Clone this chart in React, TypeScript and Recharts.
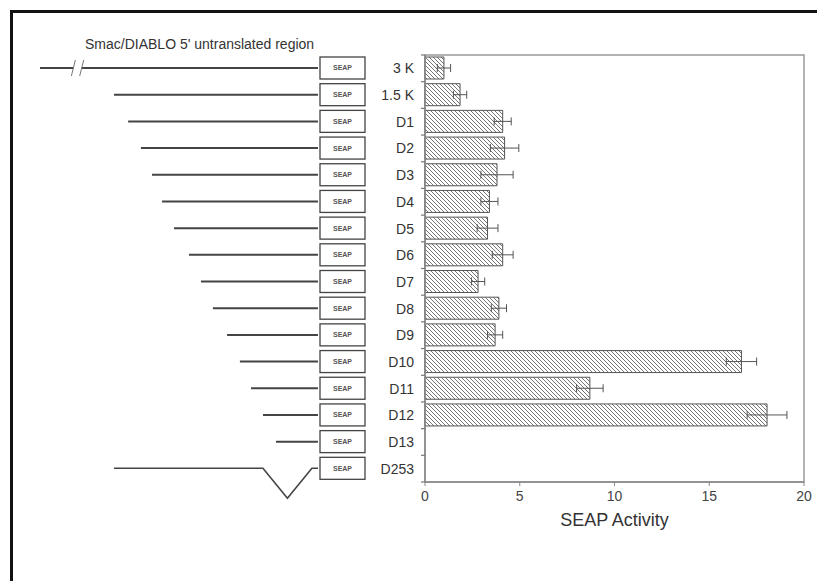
import React from "react";
import {
  BarChart,
  Bar,
  XAxis,
  YAxis,
  ErrorBar,
  ReferenceArea,
} from "recharts";

const categories = [
  "3 K", "1.5 K", "D1", "D2", "D3", "D4", "D5", "D6",
  "D7", "D8", "D9", "D10", "D11", "D12", "D13", "D253",
];

// SEAP activity (mean) and error per construct
const activity = [1.0, 1.85, 4.1, 4.2, 3.8, 3.4, 3.3, 4.1, 2.8, 3.9, 3.7, 16.7, 8.7, 18.05, 0, 0];
const activityErr = [0.35, 0.35, 0.45, 0.75, 0.85, 0.45, 0.55, 0.55, 0.35, 0.4, 0.4, 0.8, 0.7, 1.05, 0, 0];

// 5' start of each construct on a relative 0-100 scale (100 = SEAP junction)
const constructStart = [0, 26.6, 31.7, 36.3, 40.3, 43.9, 48.2, 53.6, 57.9, 62.2, 67.3, 71.9, 75.9, 80.2, 84.9, 26.6];
const breakRow = "3 K";
const breakSpan = [12, 15];
const deletionRow = "D253";
const deletionSpan = [80.2, 97.8];

const xTicks = [0, 5, 10, 15, 20];

const W = 817;
const H = 581;
const TOP = 55;
const BOTTOM = 99;
const ROW = (H - TOP - BOTTOM) / categories.length;
const INK = "#444";

const barData = categories.map((name, i) => ({
  name,
  value: activity[i],
  err: activityErr[i],
}));

const constructData = categories.map((name, i) => ({
  name,
  span: [constructStart[i], 100],
  start: constructStart[i],
}));

function ConstructShape(props: any) {
  const { x, y, width, height, payload } = props;
  const cy = y + height / 2;
  const x1 = x + width;
  const unit = width / (100 - payload.start);
  const px = (v: number) => x + (v - payload.start) * unit;
  let line: React.ReactNode;
  if (payload.name === breakRow) {
    const a = px(breakSpan[0]);
    const b = px(breakSpan[1]);
    line = (
      <g>
        <line x1={x} y1={cy} x2={a} y2={cy} stroke={INK} strokeWidth={2} />
        <line x1={b} y1={cy} x2={x1} y2={cy} stroke={INK} strokeWidth={2} />
        <line x1={a - 2} y1={cy + 8} x2={a + 2} y2={cy - 8} stroke="#777" strokeWidth={1} />
        <line x1={b - 2} y1={cy + 8} x2={b + 2} y2={cy - 8} stroke="#777" strokeWidth={1} />
      </g>
    );
  } else if (payload.name === deletionRow) {
    const a = px(deletionSpan[0]);
    const b = px(deletionSpan[1]);
    line = (
      <path
        d={`M${x},${cy} L${a},${cy} L${(a + b) / 2},${cy + 30} L${b},${cy} L${x1},${cy}`}
        fill="none"
        stroke={INK}
        strokeWidth={1.6}
      />
    );
  } else {
    line = <line x1={x} y1={cy} x2={x1} y2={cy} stroke={INK} strokeWidth={2} />;
  }
  return (
    <g>
      {line}
      <rect x={x1 + 2} y={cy - 11} width={45} height={22} fill="#fff" stroke={INK} strokeWidth={1.3} />
      <text
        x={x1 + 24.5}
        y={cy}
        dy="0.35em"
        textAnchor="middle"
        fontSize={7}
        fontWeight="bold"
        fill="#555"
      >
        SEAP
      </text>
    </g>
  );
}

function RowTick(props: any) {
  const { x, y, payload, index } = props;
  return (
    <g>
      <line x1={x - 4} y1={y - ROW / 2} x2={x} y2={y - ROW / 2} stroke="#777" strokeWidth={1.2} />
      {index === categories.length - 1 && (
        <line x1={x - 4} y1={y + ROW / 2} x2={x} y2={y + ROW / 2} stroke="#777" strokeWidth={1.2} />
      )}
      <text x={x - 11} y={y} dy="0.36em" textAnchor="end" fontSize={14} fill="#333">
        {payload.value}
      </text>
    </g>
  );
}

export default function App() {
  return (
    <div
      style={{
        position: "absolute",
        left: 0,
        top: 0,
        width: W,
        height: H,
        overflow: "hidden",
        background: "#fff",
        fontFamily: "'Liberation Sans', Arial, sans-serif",
      }}
    >
      <svg
        width={W}
        height={H}
        style={{ position: "absolute", left: 0, top: 0 }}
      >
        <path d={`M11.5,${H} L11.5,11.5 L${W},11.5`} fill="none" stroke="#111" strokeWidth={3} />
      </svg>
      <div
        style={{
          position: "absolute",
          left: 85,
          top: 36,
          fontSize: 14,
          color: "#333",
          whiteSpace: "nowrap",
        }}
      >
        Smac/DIABLO 5' untranslated region
      </div>

      <div style={{ position: "absolute", left: 0, top: 0 }}>
        <BarChart
          width={425}
          height={H}
          data={constructData}
          layout="vertical"
          margin={{ top: TOP, right: 107, bottom: BOTTOM, left: 40 }}
        >
          <XAxis type="number" domain={[0, 100]} hide />
          <YAxis type="category" dataKey="name" hide />
          <Bar dataKey="span" barSize={20} shape={ConstructShape} isAnimationActive={false} />
        </BarChart>
      </div>

      <div style={{ position: "absolute", left: 0, top: 0 }}>
        <BarChart
          width={W}
          height={H}
          data={barData}
          layout="vertical"
          margin={{ top: TOP, right: 13, bottom: BOTTOM - 30, left: 0 }}
        >
          <defs>
            <pattern id="hatch" patternUnits="userSpaceOnUse" width={4} height={4}>
              <rect width={4} height={4} fill="#fff" />
              <path d="M-1,-1 L5,5 M3,-1 L5,1 M-1,3 L1,5" stroke="#666" strokeWidth={0.9} />
            </pattern>
          </defs>
          <XAxis
            type="number"
            domain={[0, 20]}
            ticks={xTicks}
            height={30}
            tickSize={4}
            tickMargin={5}
            stroke="#888"
            axisLine={{ stroke: "#888", strokeWidth: 1.5 }}
            tick={{ fill: "#444", fontSize: 14 }}
            label={{ value: "SEAP Activity", position: "bottom", offset: 1, fontSize: 18, fill: "#333" }}
          />
          <YAxis
            type="category"
            dataKey="name"
            width={425}
            tickSize={0}
            tickMargin={0}
            tickLine={false}
            axisLine={{ stroke: "#888", strokeWidth: 1.5 }}
            tick={RowTick}
            interval={0}
          />
          <ReferenceArea x1={0} x2={20} fill="none" stroke="#999" strokeWidth={1.5} />
          <Bar
            dataKey="value"
            barSize={22}
            fill="url(#hatch)"
            stroke="#555"
            strokeWidth={1}
            isAnimationActive={false}
          >
            <ErrorBar dataKey="err" direction="x" width={4} stroke="#555" strokeWidth={1} isAnimationActive={false} />
          </Bar>
        </BarChart>
      </div>
    </div>
  );
}
